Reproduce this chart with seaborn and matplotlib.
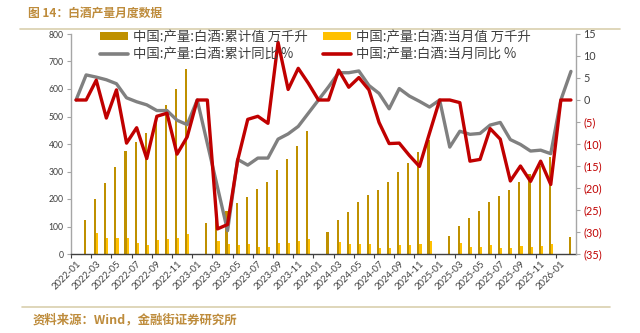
import numpy as np
import pandas as pd
import matplotlib
matplotlib.use("Agg")
import matplotlib.pyplot as plt
from matplotlib.patches import Patch
from matplotlib.lines import Line2D
import seaborn as sns

# ---- data: China baijiu output, monthly (Jan figures are not published) ----
months = [f"{y}-{m:02d}" for y in range(2022, 2027) for m in range(1, 13)][:50]

nan = np.nan
# cumulative output, 10k kilolitres
cum_output = [nan, 124, 200, 259, 318, 373, 406, 439, 490, 542, 599, 672,
              nan, 112, 155, 158, 184, 208, 236, 261, 305, 346, 394, 449,
              nan, 81, 124, 154, 189, 213, 233, 261, 297, 330, 370, 415,
              nan, 65, 102, 130, 158, 190, 212, 233, 263, 291, 321, 354,
              nan, 63]
# single-month output, 10k kilolitres
month_output = [nan, nan, 75, 57, 57, 57, 39, 33, 52, 55, 59, 73,
                nan, nan, 47, 35, 33, 35, 27, 27, 41, 39, 47, 53,
                nan, nan, 42, 35, 35, 35, 23, 23, 33, 33, 35, 47,
                nan, nan, 39, 27, 27, 33, 21, 21, 30, 27, 30, 36,
                nan, nan]
# cumulative YoY, %
cum_yoy = [0, 5.7, 5.2, 4.6, 3.7, 0.5, -0.4, -1.1, -2.4, -2.4, -4.6, -5.6,
           0, -9.9, -19.8, -29.7, -13.5, -14.8, -13.2, -13.2, -8.9, -7.7, -6.0, -3.0,
           0, 3.0, 6.2, 6.2, 6.6, 3.3, 1.5, -2.0, 2.6, 0.9, -0.3, -1.6,
           0, -10.7, -7.1, -7.8, -7.6, -5.7, -5.1, -9.0, -10.1, -11.6, -11.4, -12.2,
           0, 6.5]
# single-month YoY, %
month_yoy = [0, 0, 4.5, -4.1, 2.3, -9.8, -6.3, -13.3, -3.7, -3.0, -12.3, -8.4,
             0, 0, -29.3, -28.3, -13.7, -4.4, -3.7, -5.3, 13.1, 2.4, 7.2, 3.8,
             0, 0, 6.8, 2.9, 5.1, 2.3, -5.1, -9.9, -9.8, -12.6, -15.1, -7.5,
             0, 0, -0.6, -13.9, -13.5, -6.5, -8.9, -18.4, -15.0, -18.5, -13.9, -19.2,
             0, 0]

lab_cum = "中国:产量:白酒:累计值 万千升"
lab_mon = "中国:产量:白酒:当月值 万千升"
lab_cyoy = "中国:产量:白酒:累计同比 %"
lab_myoy = "中国:产量:白酒:当月同比 %"

title = "图 14：白酒产量月度数据"
source = "资料来源：Wind，金融街证券研究所"

left_ticks = list(range(0, 801, 100))
right_ticks = list(range(-35, 16, 5))

# ---- styling ----
C_CUM = "#BF9000"
C_MON = "#FFC000"
C_GRAY = "#808080"
C_RED = "#C00000"
C_TXT = "#404040"
C_AXIS = "#A6A6A6"
C_BRAND = "#BE8C3C"
C_RULE = "#D9CFAE"
CJK = ["Noto Sans CJK SC"]

sns.set_theme(style="white")
plt.rcParams["font.family"] = ["Lato", "Noto Sans CJK SC", "DejaVu Sans"]
plt.rcParams["axes.unicode_minus"] = False

W, H = 640, 333
fig = plt.figure(figsize=(W / 100, H / 100), dpi=100)
renderer = fig.canvas.get_renderer()


def text_box(s, size, weight="normal"):
    t = fig.text(0, 0, s, fontsize=size, family=CJK, fontweight=weight)
    bb = t.get_window_extent(renderer=renderer)
    t.remove()
    return bb.width, bb.height


def fit_size(s, width_px, weight="normal", base=10.0):
    w, _ = text_box(s, base, weight)
    return base * width_px / w


ax = fig.add_axes([71 / W, 1 - 254 / H, 505 / W, 220 / H])

bars = pd.DataFrame({
    "month": months * 2,
    "series": [lab_cum] * len(months) + [lab_mon] * len(months),
    "value": cum_output + month_output,
})
sns.barplot(data=bars, x="month", y="value", hue="series",
            order=months, hue_order=[lab_cum, lab_mon],
            palette=[C_CUM, C_MON], width=0.42, saturation=1,
            errorbar=None, legend=False, linewidth=0, ax=ax)

ax2 = ax.twinx()
xpos = np.arange(len(months))
sns.lineplot(x=xpos, y=cum_yoy, ax=ax2, color=C_GRAY, linewidth=2.4)
sns.lineplot(x=xpos, y=month_yoy, ax=ax2, color=C_RED, linewidth=2.4)

# ---- axes ----
ax.set_xlim(-0.5, len(months) - 0.5)
ax.set_ylim(0, 800)
ax2.set_ylim(-35, 15)
ax.set_xlabel("")
ax.set_ylabel("")
ax2.set_ylabel("")

ax.set_yticks(left_ticks, [str(v) for v in left_ticks])
ax2.set_yticks(right_ticks,
               [f"({abs(v)})" if v < 0 else str(v) for v in right_ticks])
for lbl, v in zip(ax2.get_yticklabels(), right_ticks):
    lbl.set_color(C_RED if v < 0 else C_TXT)

# tick marks on category boundaries, labels on category centres
ax.set_xticks(np.arange(0, len(months), 2) - 0.5, [""] * len(range(0, len(months), 2)))
ax.set_xticks(np.arange(0, len(months), 2), months[::2], minor=True)
ax.tick_params(axis="x", which="major", direction="out", length=3, width=0.8,
               color=C_TXT, bottom=True)
ax.tick_params(axis="x", which="minor", length=0, pad=4, labelsize=6.8,
               labelcolor=C_TXT, bottom=True)
for lbl in ax.get_xticklabels(minor=True):
    lbl.set_rotation(45)
    lbl.set_ha("right")
    lbl.set_va("top")
    lbl.set_rotation_mode("anchor")

ax.tick_params(axis="y", direction="out", length=3, width=0.8, color=C_AXIS,
               labelsize=6.2, labelcolor=C_TXT, left=True, pad=2.5)
ax2.tick_params(axis="y", direction="out", length=3, width=0.8, color=C_AXIS,
                labelsize=7.8, right=True, pad=2.5)

for a in (ax, ax2):
    a.spines["top"].set_visible(False)
ax.spines["right"].set_visible(False)
ax2.spines["left"].set_visible(False)
ax2.spines["bottom"].set_visible(False)
ax.spines["left"].set_color(C_AXIS)
ax2.spines["right"].set_color(C_AXIS)
ax.spines["bottom"].set_color(C_TXT)
for s in (ax.spines["left"], ax2.spines["right"], ax.spines["bottom"]):
    s.set_linewidth(1.0)
ax.grid(False)
ax2.grid(False)

# ---- legend: two columns, each pinned to its own x position ----
leg_size = fit_size(lab_cum, 175)
fs_px = leg_size * 100 / 72
_, row_h = text_box(lab_cum, leg_size)
row_pitch = 17.5
row1_center = 36.5
leg_kw = dict(loc="upper left", frameon=False,
              prop={"family": CJK, "size": leg_size},
              labelcolor=C_TXT, handlelength=28 / fs_px, handleheight=0.55,
              handletextpad=5 / fs_px,
              labelspacing=max(row_pitch - row_h, 0) / fs_px,
              borderpad=0, borderaxespad=0)
top_y = 1 - (row1_center - row_h / 2) / H
fig.legend([Patch(facecolor=C_CUM, edgecolor="none"),
            Line2D([], [], color=C_GRAY, linewidth=2.6)],
           [lab_cum, lab_cyoy], bbox_to_anchor=(100 / W, top_y), **leg_kw)
fig.legend([Patch(facecolor=C_MON, edgecolor="none"),
            Line2D([], [], color=C_RED, linewidth=2.6)],
           [lab_mon, lab_myoy], bbox_to_anchor=(323 / W, top_y), **leg_kw)

# ---- header and footer ----
fig.text(28 / W, 1 - 13 / H, title, color=C_BRAND,
         fontsize=fit_size(title, 134, "bold"), fontweight="bold",
         va="center", ha="left", family=CJK)
fig.add_artist(Line2D([20 / W, 620 / W], [1 - 29 / H, 1 - 29 / H],
                      color=C_RULE, linewidth=1.2))
fig.add_artist(Line2D([22 / W, 610 / W], [1 - 307 / H, 1 - 307 / H],
                      color=C_RULE, linewidth=1.2))
fig.text(33 / W, 1 - 320 / H, source, color=C_BRAND,
         fontsize=fit_size(source, 205, "bold"), fontweight="bold",
         va="center", ha="left", family=CJK)

fig.savefig("out.png", dpi=100, facecolor="white")
